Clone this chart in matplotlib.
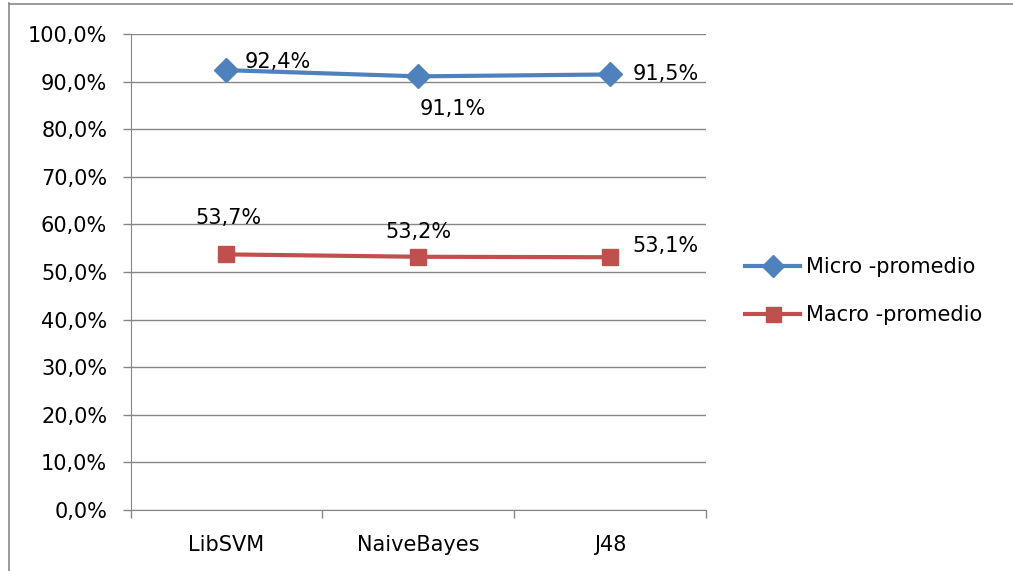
import matplotlib
matplotlib.use("Agg")
import matplotlib.pyplot as plt
from matplotlib.lines import Line2D
from matplotlib.ticker import FuncFormatter, FixedLocator

categories = ["LibSVM", "NaiveBayes", "J48"]
micro = [92.4, 91.1, 91.5]
macro = [53.7, 53.2, 53.1]
series_names = ["Micro -promedio", "Macro -promedio"]
yticks = [0, 10, 20, 30, 40, 50, 60, 70, 80, 90, 100]

plt.rcParams['font.family'] = ['DejaVu Sans']
FS = 15

W, H = 1013, 571
fig = plt.figure(figsize=(W/100, H/100), dpi=100)
ax = fig.add_axes([130.5/W, 1-510/H, 575.5/W, 476/H])

x = list(range(len(categories)))
blue = "#4F81BD"
red = "#C0504D"
ax.plot(x, micro, color=blue, lw=3, marker="D", ms=12.5, label=series_names[0], zorder=3)
ax.plot(x, macro, color=red, lw=3, marker="s", ms=12, label=series_names[1], zorder=3)

def fmt(v):
    return f"{v:.1f}%".replace(".", ",")

micro_off = [(37, 1.5), (25, -28), (40, -4)]
macro_off = [(1.5, 22), (0, 13.5), (40, 3.7)]
for i, v in enumerate(micro):
    ax.annotate(fmt(v), (i, v), xytext=micro_off[i], textcoords="offset points",
                ha="center", va="baseline", fontsize=FS)
for i, v in enumerate(macro):
    ax.annotate(fmt(v), (i, v), xytext=macro_off[i], textcoords="offset points",
                ha="center", va="baseline", fontsize=FS)

ax.set_xlim(-0.5, 2.5)
ax.set_ylim(0, 100)
ax.set_yticks(yticks)
ax.yaxis.set_major_formatter(FuncFormatter(lambda v, p: fmt(v)))
ax.set_xticks(x)
ax.set_xticklabels(categories)
ax.xaxis.set_minor_locator(FixedLocator([-0.5, 0.5, 1.5, 2.5]))
ax.tick_params(axis="x", which="major", length=0, pad=18, labelsize=FS)
ax.tick_params(axis="x", which="minor", length=5.8, width=1, color="#868686")
ax.tick_params(axis="y", length=5.8, width=1, color="#868686", labelsize=FS, pad=11)
ax.grid(axis="y", color="#868686", lw=1)
ax.set_axisbelow(True)
for s in ["top", "right"]:
    ax.spines[s].set_visible(False)
for s in ["left", "bottom"]:
    ax.spines[s].set_color("#868686")

fig.legend(loc="center left", bbox_to_anchor=(745/W, 1-291/H), frameon=False,
           fontsize=FS, handlelength=2.65, handletextpad=0.3, labelspacing=1.35,
           borderpad=0, borderaxespad=0, markerscale=0.9)

# chart area border (left and top edges visible in the cropped image)
fig.add_artist(Line2D([8.5/W, 8.5/W], [0, 1-3/H], transform=fig.transFigure,
                      color="#8a8a8a", lw=1.2))
fig.add_artist(Line2D([8.5/W, 1], [1-3.5/H, 1-3.5/H], transform=fig.transFigure,
                      color="#8a8a8a", lw=1.2))

fig.savefig("out.png", dpi=100)
